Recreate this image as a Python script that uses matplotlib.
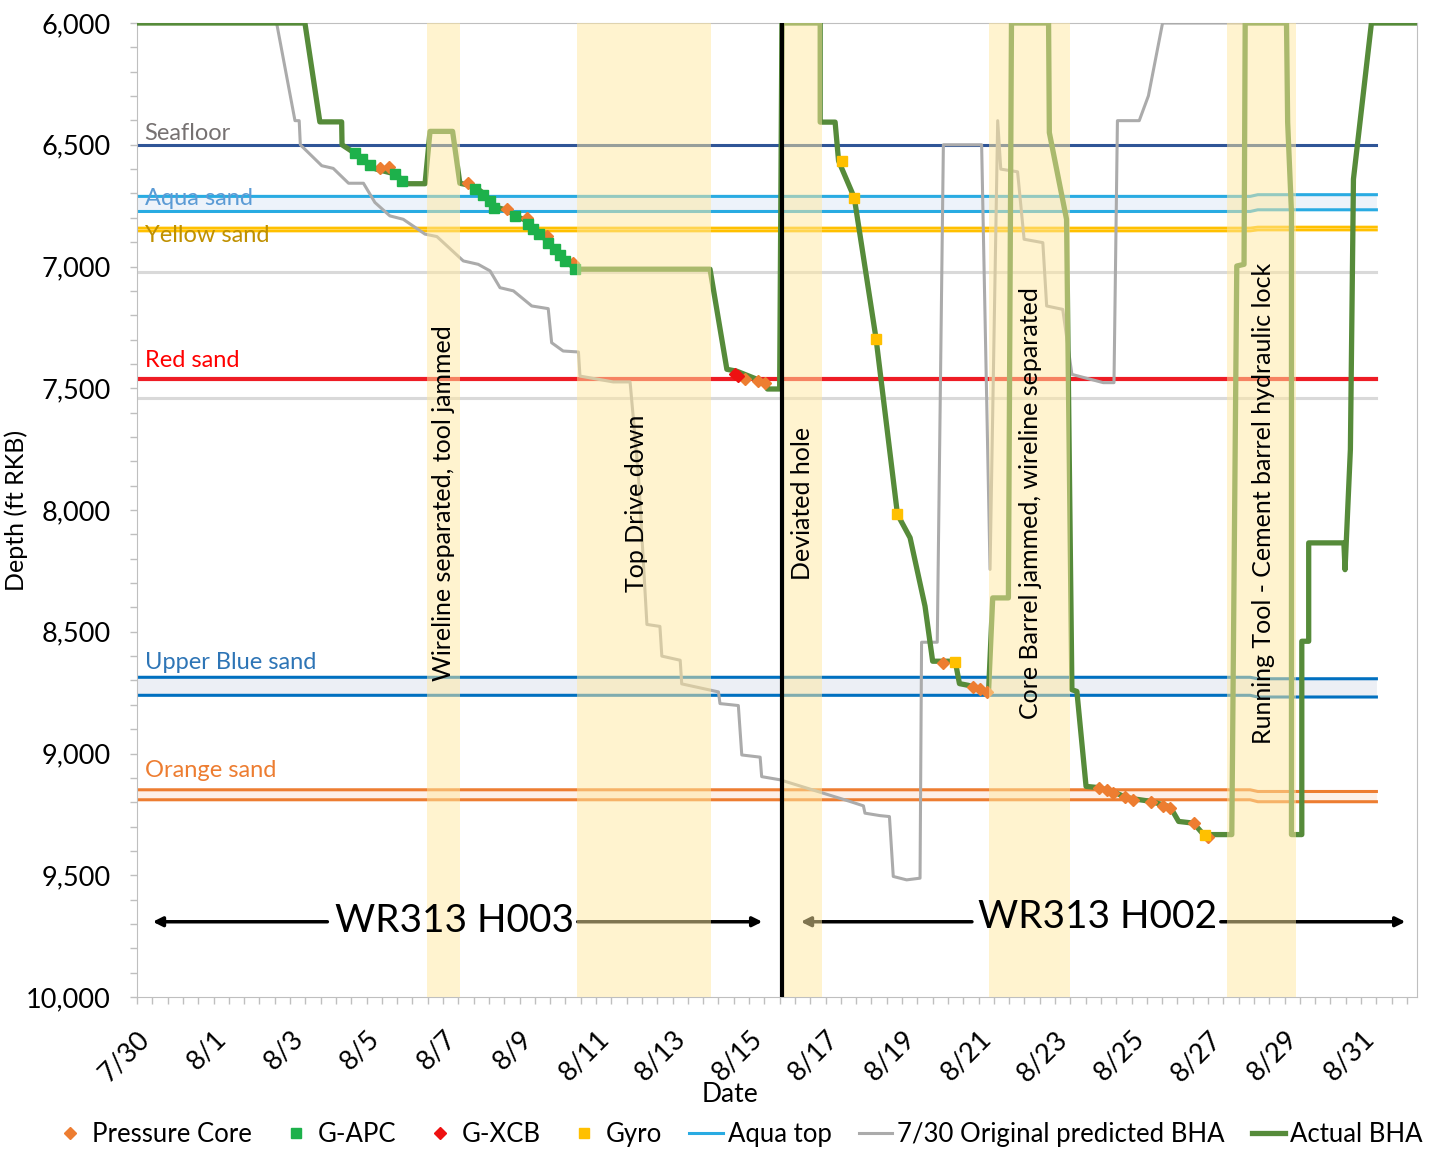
# Drilling depth vs. date for WR313 H003 / H002: actual vs. predicted BHA depth
import datetime
import matplotlib.pyplot as plt
import matplotlib.ticker as mticker

plt.rcParams['font.family'] = ['Lato', 'DejaVu Sans']
plt.rcParams['font.size'] = 19

start = datetime.date(2019, 7, 30)

# days after 7/30 and depth (ft RKB) of the actual BHA
bha_day = [0, 4.39, 4.78, 5.35, 5.36, 5.6, 6.0, 6.25, 6.75, 7.05, 7.53, 7.66, 8.25, 8.44,
           8.65, 8.9, 9.1, 9.35, 9.7, 9.88, 10.19, 10.5, 11.0, 11.45, 14.98, 15.42, 15.68,
           16.46, 16.48, 16.80, 16.86, 17.86, 17.86, 18.25, 18.34, 18.75, 19.32, 19.88,
           20.21, 20.60, 20.80, 21.39, 21.50, 21.73, 22.26, 22.37, 22.78, 22.86, 23.83,
           23.85, 24.30, 24.44, 24.57, 24.81, 25.13, 25.52, 25.79, 26.0, 26.48, 27.01,
           27.23, 27.62, 27.85, 28.01, 28.62, 28.75, 28.94, 28.97, 30.05, 30.08, 30.18,
           30.18, 30.45, 30.45, 30.63, 30.63, 31.55, 31.58, 31.72, 31.8, 32.27, 33.46]
bha_depth = [6000, 6000, 6406, 6406, 6500, 6525, 6570, 6600, 6620, 6660, 6660, 6445, 6445, 6658,
             6665, 6680, 6705, 6755, 6770, 6792, 6812, 6860, 6940, 7011, 7011, 7422, 7430,
             7479, 7503, 7503, 6000, 6000, 6407, 6407, 6566, 6717, 7296, 8018,
             8114, 8395, 8621, 8621, 8713, 8720, 8749, 8361, 8361, 6000, 6000,
             6450, 6806, 8738, 8745, 9135, 9140, 9157, 9176, 9185, 9196, 9219,
             9279, 9286, 9327, 9333, 9333, 6998, 6991, 6000, 6000, 6408, 6778,
             9333, 9333, 8539, 8539, 8135, 8135, 8245, 7751, 6641, 6000, 6000]

# 7/30 original predicted BHA
pred_day = [0, 3.65, 4.13, 4.24, 4.27, 4.83, 5.13, 5.53, 5.92, 6.22, 6.61, 6.96, 7.53, 7.84,
            8.53, 8.92, 9.23, 9.49, 9.84, 10.32, 10.75, 10.84, 11.14, 11.54, 11.58, 12.45,
            12.89, 13.11, 13.33, 13.67, 13.72, 14.20, 14.24, 15.20, 15.24, 15.72, 15.81,
            16.29, 16.33, 16.81, 18.64, 18.99, 19.03, 19.42, 19.67, 19.77, 20.12, 20.47,
            20.51, 20.92, 21.08, 22.08, 22.30, 22.50, 22.58, 23.02, 23.19, 23.68, 23.78,
            24.20, 24.44, 25.26, 25.54, 25.63, 26.20, 26.44, 26.81, 29.5]
pred_depth = [6000, 6000, 6401, 6401, 6500, 6586, 6597, 6658, 6658, 6737, 6792, 6806, 6867, 6877,
              6977, 6991, 7018, 7087, 7100, 7162, 7173, 7313, 7347, 7351, 7450, 7474,
              7474, 7861, 8470, 8478, 8600, 8617, 8714, 8747, 8795, 8803, 9006,
              9015, 9095, 9108, 9197, 9215, 9245, 9255, 9259, 9505, 9519, 9512,
              8543, 8543, 6500, 6500, 8244, 6401, 6600, 6611, 6888, 6902, 7162,
              7176, 7443, 7477, 7477, 6401, 6401, 6299, 6000, 6000]

# sample points
pc_day = [6.35, 6.60, 8.66, 9.67, 10.19, 10.71, 11.41, 15.90, 16.24, 16.42, 21.06, 21.86,
          22.04, 22.23, 25.16, 25.35, 25.52, 25.83, 26.03, 26.51, 26.83, 27.01, 27.63, 28.01]
pc_depth = [6597, 6593, 6655, 6765, 6799, 6874, 6984, 7463, 7471, 7478, 8628, 8727,
            8735, 8746, 9142, 9149, 9163, 9179, 9190, 9201, 9215, 9224, 9286, 9341]
apc_day = [5.70, 5.87, 6.09, 6.75, 6.92, 8.84, 9.05, 9.23, 9.33, 9.88, 10.23, 10.36, 10.52,
           10.75, 10.93, 11.06, 11.19, 11.45]
apc_depth = [6532, 6559, 6584, 6621, 6648, 6680, 6707, 6730, 6758, 6792, 6824, 6847, 6867,
             6902, 6929, 6954, 6977, 7011]
xcb_day = [15.62, 15.72]
xcb_depth = [7443, 7450]
gyro_day = [18.44, 18.75, 19.32, 19.88, 21.39, 27.93]
gyro_depth = [6566, 6717, 7296, 8018, 8626, 9333]

# formation tops / bases
sand_day = [0, 29.1, 29.3, 32.4]
aqua_top = [6712, 6712, 6705, 6705]
aqua_base = [6774, 6774, 6767, 6767]
yellow_top = [6842, 6842, 6838, 6838]
yellow_base = [6854, 6854, 6850, 6850]
blue_top = [8687, 8687, 8693, 8693]
blue_base = [8761, 8761, 8768, 8768]
orange_top = [9149, 9149, 9156, 9156]
orange_base = [9190, 9190, 9198, 9198]
seafloor = 6500
red_sand = 7463
grey_marks = [7023, 7541]
sand_labels = ["Seafloor", "Aqua sand", "Yellow sand", "Red sand", "Upper Blue sand", "Orange sand"]
sand_label_depth = [6452, 6719, 6871, 7385, 8626, 9070]
sand_label_color = ["#767171", "#5B9BD5", "#BF9000", "#FF0000", "#2E75B6", "#ED7D31"]

# non-productive time windows (days after 7/30)
npt_start = [7.58, 11.50, 16.89, 22.27, 28.50]
npt_end = [8.44, 15.00, 17.91, 24.39, 30.30]
npt_text = ["Wireline separated, tool jammed", "Top Drive down", "Deviated hole",
            "Core Barrel jammed, wireline separated", "Running Tool - Cement barrel hydraulic lock"]
npt_text_day = [8.0, 13.05, 17.39, 23.35, 29.44]

hole_change_day = 16.86

fig = plt.figure(figsize=(14.33, 11.51), dpi=100)
ax = fig.add_axes([0.0956, 0.1338, 0.8932, 0.8462])

# sand lines
ax.fill_between(sand_day, aqua_top, aqua_base, color="#EDF3FA", lw=0, zorder=1)
ax.fill_between(sand_day, blue_top, blue_base, color="#ECEFF5", lw=0, zorder=1)
ax.fill_between(sand_day, orange_top, orange_base, color="#FDF0E8", lw=0, zorder=1)
ax.plot([0, 32.4], [seafloor, seafloor], color="#2F5597", lw=2.2, zorder=2)
ax.plot(sand_day, aqua_top, color="#29ABE2", lw=2.2, zorder=2, label="Aqua top")
ax.plot(sand_day, aqua_base, color="#29ABE2", lw=2.2, zorder=2)
ax.plot(sand_day, yellow_top, color="#FFC000", lw=2, zorder=2)
ax.plot(sand_day, yellow_base, color="#FFC000", lw=2, zorder=2)
for d in grey_marks:
    ax.plot([0, 32.4], [d, d], color="#D9D9D9", lw=2.2, zorder=2)
ax.plot([0, 32.4], [red_sand, red_sand], color="#EE1C25", lw=3, zorder=2)
ax.plot(sand_day, blue_top, color="#0070C0", lw=2.2, zorder=2)
ax.plot(sand_day, blue_base, color="#0070C0", lw=2.2, zorder=2)
ax.plot(sand_day, orange_top, color="#ED7D31", lw=2.2, zorder=2)
ax.plot(sand_day, orange_base, color="#ED7D31", lw=2.2, zorder=2)
for lab, d, c in zip(sand_labels, sand_label_depth, sand_label_color):
    ax.text(0.2, d, lab, color=c, fontsize=17, va="center", ha="left", zorder=3)

pred, = ax.plot(pred_day, pred_depth, color="#ABABAB", lw=2.2, zorder=3,
                label="7/30 Original predicted BHA")
actual, = ax.plot(bha_day, bha_depth, color="#568B3A", lw=3.8, zorder=4, label="Actual BHA")
pc, = ax.plot(pc_day, pc_depth, ls="none", marker="D", ms=6, color="#ED7D31", zorder=5,
              label="Pressure Core")
apc, = ax.plot(apc_day, apc_depth, ls="none", marker="s", ms=7, color="#1DB14B", zorder=5,
               label="G-APC")
xcb, = ax.plot(xcb_day, xcb_depth, ls="none", marker="D", ms=6, color="#EE1111", zorder=5,
               label="G-XCB")
gyro, = ax.plot(gyro_day, gyro_depth, ls="none", marker="s", ms=6.5, color="#FFC000", zorder=5,
                label="Gyro")

# hole arrows
arrow = dict(arrowstyle="-|>", color="black", lw=2.5, mutation_scale=14)
ax.annotate("", xy=(0.34, 9691), xytext=(5.05, 9691), arrowprops=arrow, zorder=5)
ax.annotate("", xy=(16.42, 9691), xytext=(11.45, 9691), arrowprops=arrow, zorder=5)
ax.annotate("", xy=(17.28, 9691), xytext=(21.9, 9691), arrowprops=arrow, zorder=5)
ax.annotate("", xy=(33.23, 9691), xytext=(28.26, 9691), arrowprops=arrow, zorder=5)
ax.text(8.29, 9687, "WR313 H003", fontsize=28, ha="center", va="center", zorder=8)
ax.text(25.12, 9670, "WR313 H002", fontsize=28, ha="center", va="center", zorder=8)

for s, e, t, td in zip(npt_start, npt_end, npt_text, npt_text_day):
    ax.axvspan(s, e, color="#FFE8A0", alpha=0.5, lw=0, zorder=6)
    ax.text(td, 7973, t, rotation=90, ha="center", va="center", fontsize=18, zorder=8)

ax.axvline(hole_change_day, color="black", lw=3, zorder=7)

ax.set_xlim(0, 33.46)
ax.set_ylim(10000, 6000)
ax.xaxis.set_major_locator(mticker.MultipleLocator(2))
ax.xaxis.set_minor_locator(mticker.MultipleLocator(0.4))
ax.xaxis.set_major_formatter(mticker.FuncFormatter(
    lambda v, p: (lambda d: f"{d.month}/{d.day}")(start + datetime.timedelta(days=round(v)))))
ax.yaxis.set_major_locator(mticker.MultipleLocator(500))
ax.yaxis.set_minor_locator(mticker.MultipleLocator(100))
ax.yaxis.set_major_formatter(mticker.StrMethodFormatter("{x:,.0f}"))
ax.tick_params(which="both", direction="out", length=5, color="#BFBFBF", width=1)
ax.tick_params(axis="y", which="major", labelsize=19.5, pad=14)
ax.tick_params(axis="x", which="major", labelsize=19.5, pad=16)
for lab in ax.get_xticklabels():
    lab.set_rotation(45)
    lab.set_ha("right")
    lab.set_rotation_mode("anchor")
for sp in ax.spines.values():
    sp.set_color("#BFBFBF")

ax.set_xlabel("Date", fontsize=19)
ax.xaxis.set_label_coords(0.463, -0.087)
ax.set_ylabel("Depth (ft RKB)", fontsize=18)
ax.yaxis.set_label_coords(-0.085, 0.5)

fig.legend(handles=[pc, apc, xcb, gyro, ax.get_lines()[1], pred, actual],
           loc="center", bbox_to_anchor=(0.515, 0.014), ncol=7, frameon=False,
           fontsize=18.5, handlelength=1.3, handletextpad=0.2, columnspacing=1.05,
           borderaxespad=0)

plt.savefig("out.png", dpi=100)
